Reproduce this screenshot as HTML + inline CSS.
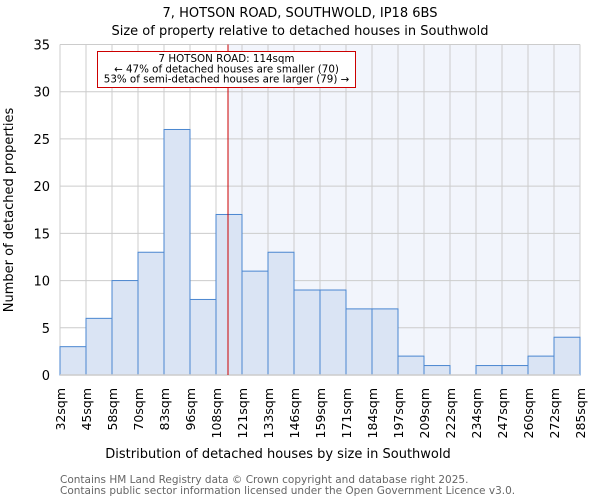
<!DOCTYPE html>
<html><head><meta charset="utf-8"><style>
body{margin:0;background:#fff;}
svg{display:block;font-family:"DejaVu Sans","Liberation Sans",sans-serif;}
</style></head><body>
<svg id="chart" width="600" height="500" viewBox="0 0 600 500" xmlns="http://www.w3.org/2000/svg">
<text x="300" y="17" text-anchor="middle" font-size="13" fill="#000">7, HOTSON ROAD, SOUTHWOLD, IP18 6BS</text>
<text x="300" y="35" text-anchor="middle" font-size="13" fill="#000">Size of property relative to detached houses in Southwold</text>
<g id="plot"></g>
<text x="278" y="458" text-anchor="middle" font-size="13">Distribution of detached houses by size in Southwold</text>
<text transform="translate(13,210) rotate(-90)" text-anchor="middle" font-size="13">Number of detached properties</text>
<text x="60" y="483" font-size="10.5" fill="#666">Contains HM Land Registry data © Crown copyright and database right 2025.</text>
<text x="60" y="494" font-size="10.5" fill="#666">Contains public sector information licensed under the Open Government Licence v3.0.</text>
</svg>
<script>
const binLabels = ["32sqm","45sqm","58sqm","70sqm","83sqm","96sqm","108sqm","121sqm","133sqm","146sqm","159sqm","171sqm","184sqm","197sqm","209sqm","222sqm","234sqm","247sqm","260sqm","272sqm","285sqm"];
const counts = [3,6,10,13,26,8,17,11,13,9,9,7,7,2,1,0,1,1,2,4];
const yTicks = [0,5,10,15,20,25,30,35];
const propertyIndex = 6 + 6/13; // 114 sqm
const NS = "http://www.w3.org/2000/svg";
const L = 60, R = 580, T = 44.5, B = 375, YMAX = 35;
const bw = (R - L) / counts.length;
const xs = i => L + i * bw;
const ys = v => B - v / YMAX * (B - T);
const g = document.getElementById('plot');
function mk(tag, a){const e=document.createElementNS(NS,tag);for(const k in a)e.setAttribute(k,a[k]);g.appendChild(e);return e;}
const px = xs(propertyIndex);
const shade = mk('rect',{x:px,y:T,width:R-px,height:B-T,fill:'#f2f5fc'});


for (let i = 0; i < binLabels.length; i++) {
  const l = mk('line',{x1:xs(i),x2:xs(i),y1:T,y2:B,stroke:'#cccccc','stroke-width':1});
  
  
}
yTicks.forEach(v => {
  const l = mk('line',{x1:L,x2:R,y1:ys(v),y2:ys(v),stroke:'#cccccc','stroke-width':1});
  
  
  const t = mk('text',{x:L-10,y:ys(v)+5,'text-anchor':'end','font-size':13});
  t.textContent = v;
  
  
});
counts.forEach((c, i) => {
  if (c <= 0) return;
  const r = mk('rect',{x:xs(i),y:ys(c),width:bw,height:B-ys(c),fill:'#dae4f4',stroke:'#4a86d0','stroke-width':1});
  
  
});
binLabels.forEach((lab, i) => {
  const t = mk('text',{transform:`translate(${xs(i)+5},388) rotate(-90)`,'text-anchor':'end','font-size':12.5});
  t.textContent = lab;
  
  
});
const ax = mk('line',{x1:L,x2:R,y1:B,y2:B,stroke:'#cccccc','stroke-width':1.5});


const red = mk('line',{x1:px,x2:px,y1:T,y2:B,stroke:'#cc0000','stroke-width':1});


const box = mk('rect',{x:97.5,y:51.5,width:258,height:36,fill:'#fff',stroke:'#cc0000','stroke-width':1});


["7 HOTSON ROAD: 114sqm","← 47% of detached houses are smaller (70)","53% of semi-detached houses are larger (79) →"].forEach((s, k) => {
  const t = mk('text',{x:226.5,y:62+k*10.3,'text-anchor':'middle','font-size':10.3});
  t.textContent = s;
  
  
});
</script>
</body></html>
